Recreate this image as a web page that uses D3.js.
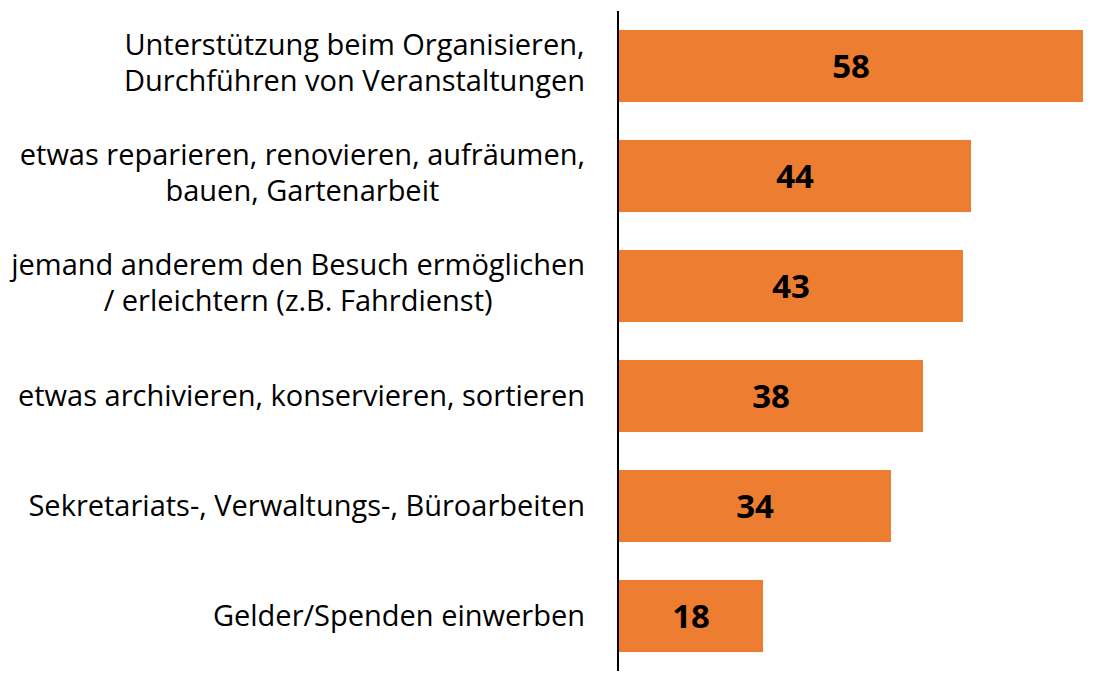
<!DOCTYPE html>
<html>
<head>
<meta charset="utf-8">
<script src="https://cdn.jsdelivr.net/npm/d3@7"></script>
<style>
  body { margin: 0; background: #fff; }
  text { font-family: "Open Sans", Lato, sans-serif; }
</style>
</head>
<body>
<script>
let width = 1100,
    height = 679;

let categories = [
    ["Unterstützung beim Organisieren,", "Durchführen von Veranstaltungen"],
    ["etwas reparieren, renovieren, aufräumen,", "bauen, Gartenarbeit"],
    ["jemand anderem den Besuch ermöglichen", "/ erleichtern (z.B. Fahrdienst)"],
    ["etwas archivieren, konservieren, sortieren"],
    ["Sekretariats-, Verwaltungs-, Büroarbeiten"],
    ["Gelder/Spenden einwerben"]
];
let values = [58, 44, 43, 38, 34, 18];

let svg = d3.select("body").append("svg")
    .attr("width", width)
    .attr("height", height);

let x = d3.scaleLinear().domain([0, 58]).range([619, 1083]);
let y = d3.scaleBand()
    .domain(d3.range(values.length))
    .range([11, 671])
    .paddingInner(0.345)
    .paddingOuter(0.1725);

svg.selectAll(".bar")
    .data(values)
    .enter().append("rect")
    .attr("class", "bar")
    .attr("x", x(0))
    .attr("y", (d, i) => y(i))
    .attr("width", d => x(d) - x(0))
    .attr("height", y.bandwidth())
    .attr("fill", "#ED7D31");

svg.selectAll(".value")
    .data(values)
    .enter().append("text")
    .attr("class", "value")
    .attr("x", d => (x(0) + x(d)) / 2)
    .attr("y", (d, i) => y(i) + y.bandwidth() / 2)
    .attr("dy", "0.37em")
    .attr("text-anchor", "middle")
    .attr("font-size", 33)
    .attr("font-weight", "bold")
    .attr("fill", "#000")
    .text(d => d);

// labels: lines centred on each other, block right-aligned next to the axis
let labelRight = 585,
    lineHeight = 36.5;

categories.forEach(function (lines, i) {
    let cy = y(i) + y.bandwidth() / 2 - (lines.length > 1 ? 3.5 : 0);
    let g = svg.append("g").attr("class", "label");
    let texts = lines.map(function (line, j) {
        return g.append("text")
            .attr("y", cy + (j - (lines.length - 1) / 2) * lineHeight)
            .attr("dy", "0.36em")
            .attr("text-anchor", "middle")
            .attr("font-size", 29)
            .attr("fill", "#000")
            .text(line);
    });
    let w = d3.max(texts, t => t.node().getComputedTextLength());
    texts.forEach(t => t.attr("x", labelRight - w / 2));
});

svg.append("line")
    .attr("x1", 618).attr("x2", 618)
    .attr("y1", 11).attr("y2", 671)
    .attr("stroke", "#000")
    .attr("stroke-width", 2);
</script>
</body>
</html>
